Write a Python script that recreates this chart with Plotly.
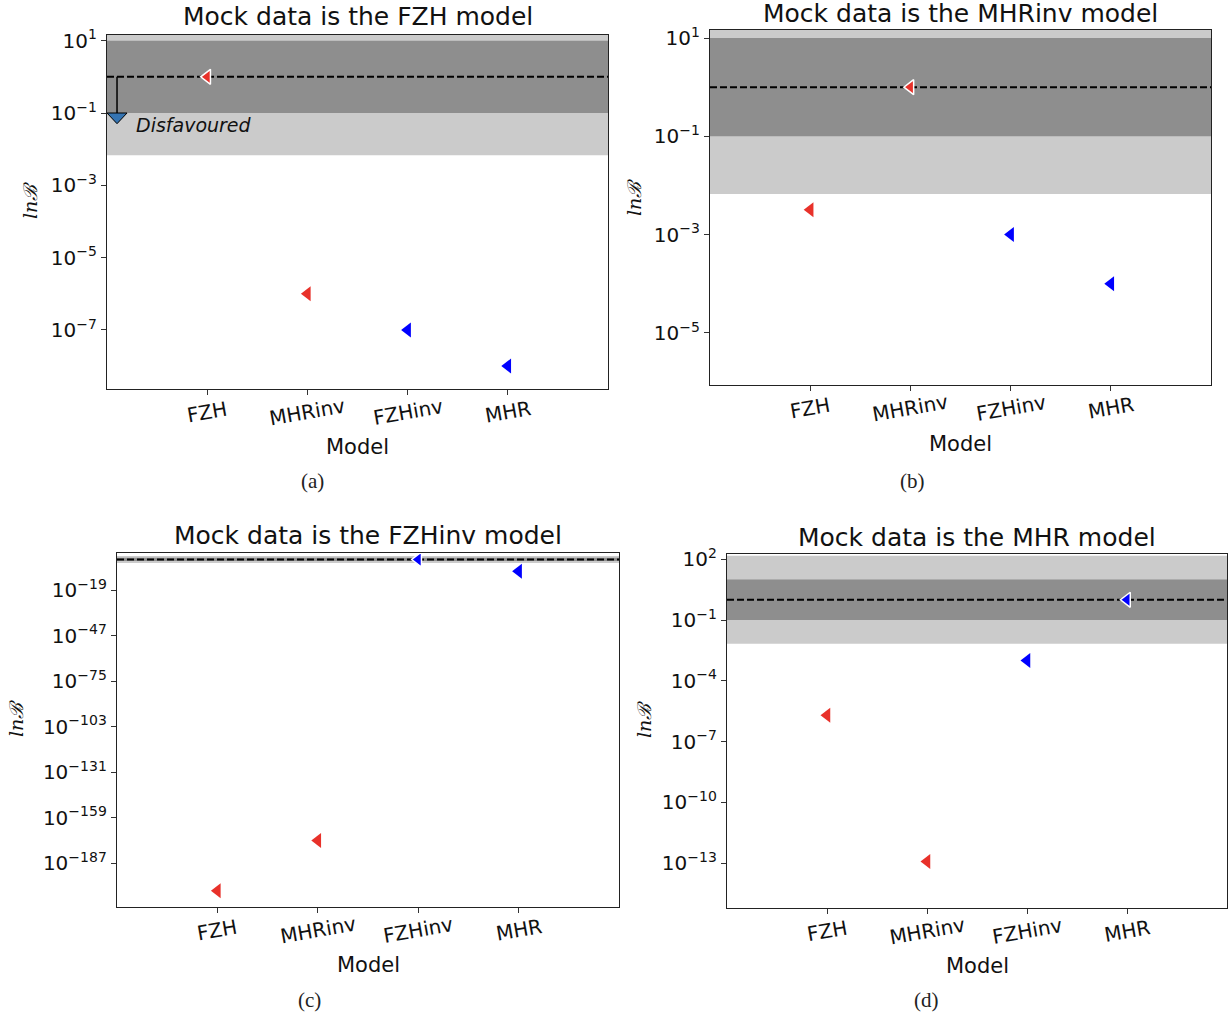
import math
import plotly.graph_objects as go

W, H = 1228, 1016

# ---------------- data ----------------
models = ["FZH", "MHRinv", "FZHinv", "MHR"]
model_colors = ["#e8312a", "#e8312a", "#0000ff", "#0000ff"]

titles = [
    "Mock data is the FZH model",
    "Mock data is the MHRinv model",
    "Mock data is the FZHinv model",
    "Mock data is the MHR model",
]
true_models = ["FZH", "MHRinv", "FZHinv", "MHR"]
captions = ["(a)", "(b)", "(c)", "(d)"]

bayes_a = [1.0, 1e-6, 1e-7, 1e-8]
bayes_b = [3.2e-3, 1.0, 1e-3, 1e-4]
bayes_c = [1e-204, 1e-173, 1.0, 5e-8]
bayes_d = [2e-6, 1.2e-13, 1e-3, 1.0]
bayes_all = [bayes_a, bayes_b, bayes_c, bayes_d]

ytick_exp_a = [1, -1, -3, -5, -7]
ytick_exp_b = [1, -1, -3, -5]
ytick_exp_c = [-19, -47, -75, -103, -131, -159, -187]
ytick_exp_d = [2, -1, -4, -7, -10, -13]
ytick_exps = [ytick_exp_a, ytick_exp_b, ytick_exp_c, ytick_exp_d]

# y ranges (log10 units)
yrange_a = [-8.635, 1.166]
yrange_b = [-6.06, 1.163]
yrange_c = [-214.0, 4.0]
yrange_d = [-15.19, 2.26]
yranges = [yrange_a, yrange_b, yrange_c, yrange_d]

ref_line = 1.0
strong_band = [0.1, 10.0]
weak_band = [math.exp(-5), math.exp(5)]

# Disfavoured arrow (panel a)
arrow_x = -0.9
arrow_from = 1.0
arrow_to = 0.1
arrow_head_half = 0.1
arrow_head_tip = 10 ** -1.296

# ---------------- layout geometry (pixels) ----------------
# (left, right, top, bottom)
boxes = [
    (107, 608, 34.7, 389),
    (710, 1211, 30, 385),
    (117, 619, 553, 907),
    (727, 1227, 554, 907.5),
]
title_y = [17, 14, 535, 537]
model_y = [447, 444, 965, 966]
ylabel_pos = [(30, 201), (634, 198), (16, 719), (644, 720)]
caption_pos = [(312, 481), (912, 481), (309, 1000), (926, 1000)]
catlabel_gap = 23

DARK = "#8e8e8e"
LIGHT = "#cbcbcb"
TXT = "#111111"

def px(x):
    return x / W

def py(y):
    return 1 - y / H

def sup(e):
    return "10<sup>" + str(e).replace("-", "\u2212") + "</sup>"

fig = go.Figure()
annotations = []
layout_axes = {}

xr = [-1, 4]
xpos = list(range(len(models)))

for i in range(4):
    n = "" if i == 0 else str(i + 1)
    xref, yref = "x" + n, "y" + n
    L, R, T, B = boxes[i]

    # bands
    for band, col in ((weak_band, LIGHT), (strong_band, DARK)):
        fig.add_trace(go.Scatter(
            x=[xr[0], xr[1], xr[1], xr[0], xr[0]],
            y=[band[0], band[0], band[1], band[1], band[0]],
            fill="toself", fillcolor=col, mode="lines", line=dict(width=0, color=col),
            hoverinfo="skip", showlegend=False, xaxis=xref, yaxis=yref))
    # reference dashed line
    fig.add_trace(go.Scatter(
        x=xr, y=[ref_line, ref_line], mode="lines",
        line=dict(color="black", width=2, dash="7px,3px"),
        hoverinfo="skip", showlegend=False, xaxis=xref, yaxis=yref))

    if i == 0:
        fig.add_trace(go.Scatter(
            x=[arrow_x, arrow_x], y=[arrow_from, arrow_to], mode="lines",
            line=dict(color="black", width=1.5),
            hoverinfo="skip", showlegend=False, xaxis=xref, yaxis=yref))
        fig.add_trace(go.Scatter(
            x=[arrow_x - arrow_head_half, arrow_x + arrow_head_half, arrow_x, arrow_x - arrow_head_half],
            y=[arrow_to, arrow_to, arrow_head_tip, arrow_to],
            fill="toself", fillcolor="#3574b2", mode="lines",
            line=dict(color="black", width=1),
            hoverinfo="skip", showlegend=False, xaxis=xref, yaxis=yref))
        annotations.append(dict(
            x=px(134), y=py(125), xref="paper", yref="paper", xanchor="left", yanchor="middle",
            text="<i>Disfavoured</i>", showarrow=False,
            font=dict(family="DejaVu Sans", size=19, color=TXT)))

    # markers
    is_true = [m == true_models[i] for m in models]
    fig.add_trace(go.Scatter(
        x=xpos, y=bayes_all[i], mode="markers",
        marker=dict(symbol="triangle-left", size=13, color=model_colors,
                    line=dict(color="white", width=[1.5 if t else 0 for t in is_true])),
        hoverinfo="skip", showlegend=False, xaxis=xref, yaxis=yref))

    layout_axes["xaxis" + n] = dict(
        domain=[px(L), px(R)], anchor=yref, range=xr, automargin=False,
        tickvals=xpos, ticktext=models, showticklabels=False,
        ticks="outside", ticklen=5, tickwidth=1, tickcolor="#333",
        showline=True, mirror=True, linecolor="#222", linewidth=1.4,
        showgrid=False, zeroline=False)
    exps = ytick_exps[i]
    layout_axes["yaxis" + n] = dict(
        domain=[py(B), py(T)], anchor=xref, type="log", range=yranges[i], automargin=False,
        tickvals=[10.0 ** e for e in exps], ticktext=[sup(e) for e in exps],
        ticks="outside", ticklen=5, tickwidth=1, tickcolor="#333",
        showline=True, mirror=True, linecolor="#222", linewidth=1.4,
        showgrid=False, zeroline=False,
        tickfont=dict(family="DejaVu Sans", size=20, color=TXT))

    # category labels, slightly rotated and centred under each tick
    for k, m in enumerate(models):
        annotations.append(dict(
            x=xpos[k], y=py(B + catlabel_gap), xref=xref, yref="paper",
            xanchor="center", yanchor="middle", text=m, textangle=-10, showarrow=False,
            font=dict(family="DejaVu Sans", size=20, color=TXT)))

    cx = (L + R) / 2
    annotations.append(dict(
        x=px(cx), y=py(title_y[i]), xref="paper", yref="paper", xanchor="center", yanchor="middle",
        text=titles[i], showarrow=False, font=dict(family="DejaVu Sans", size=25, color=TXT)))
    annotations.append(dict(
        x=px(cx), y=py(model_y[i]), xref="paper", yref="paper", xanchor="center", yanchor="middle",
        text="Model", showarrow=False, font=dict(family="DejaVu Sans", size=21, color=TXT)))
    lx, ly = ylabel_pos[i]
    annotations.append(dict(
        x=px(lx), y=py(ly), xref="paper", yref="paper", xanchor="center", yanchor="middle",
        text="<i>ln\u212c</i>", textangle=-90, showarrow=False,
        font=dict(family="DejaVu Serif", size=19, color=TXT)))
    cxp, cyp = caption_pos[i]
    annotations.append(dict(
        x=px(cxp), y=py(cyp), xref="paper", yref="paper", xanchor="center", yanchor="middle",
        text=captions[i], showarrow=False,
        font=dict(family="Liberation Serif", size=21, color="#222")))

fig.update_layout(
    width=W, height=H, margin=dict(l=0, r=0, t=0, b=0, autoexpand=False),
    paper_bgcolor="white", plot_bgcolor="white",
    showlegend=False, annotations=annotations, **layout_axes)

fig.write_html("out.html")
